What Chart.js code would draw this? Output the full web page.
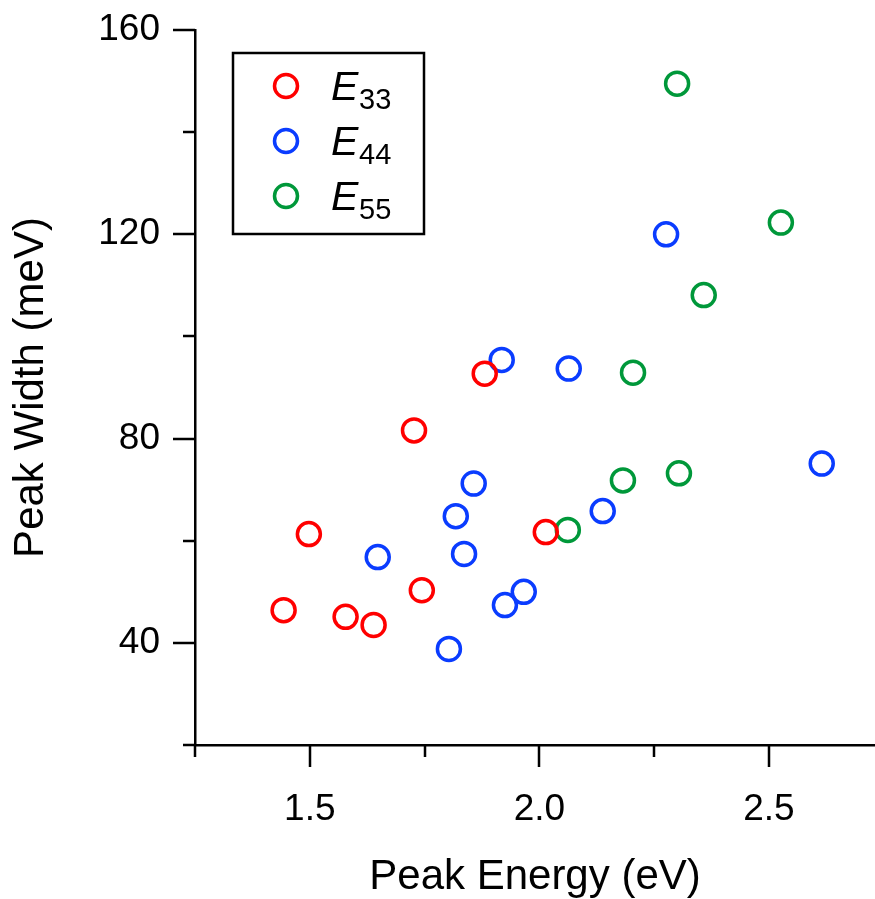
<!DOCTYPE html>
<html>
<head>
<meta charset="utf-8">
<script src="https://cdn.jsdelivr.net/npm/chart.js@4.4.1/dist/chart.umd.min.js"></script>
<style>
  html, body { margin: 0; padding: 0; background: #fff; overflow: hidden; }
  #wrap { width: 875px; height: 899px; }
</style>
</head>
<body>
<div id="wrap"><canvas id="myChart"></canvas></div>
<script>
Chart.defaults.font.family = "'Liberation Sans', Arial, sans-serif";
Chart.defaults.color = '#000';

// peak energy (eV) / peak width (meV) per transition
var e33_x = [1.443, 1.498, 1.578, 1.639, 1.727, 1.744, 1.881, 2.014];
var e33_y = [46.4, 61.3, 45.1, 43.5, 81.6, 50.3, 92.7, 61.7];
var e44_x = [1.648, 1.803, 1.818, 1.836, 1.857, 1.918, 1.925, 1.966, 2.064, 2.138, 2.276, 2.615];
var e44_y = [56.8, 38.8, 64.8, 57.4, 71.2, 95.4, 47.4, 50.0, 93.7, 65.8, 120.0, 75.1];
var e55_x = [2.062, 2.182, 2.204, 2.300, 2.304, 2.358, 2.526];
var e55_y = [62.1, 71.8, 92.9, 149.5, 73.2, 108.1, 122.3];

var series_names = ['E', 'E', 'E'];
var series_subs = ['33', '44', '55'];
var series_colors = ['#ff0000', '#0a3cff', '#00983a'];

var x_ticks = [1.25, 1.5, 1.75, 2.0, 2.25, 2.5];
var x_labels = ['1.5', '2.0', '2.5'];
var y_ticks = [20, 40, 60, 80, 100, 120, 140, 160];
var y_labels = ['40', '80', '120', '160'];

function toPoints(xs, ys){
    let pts = [];
    for (let i = 0; i < xs.length; i++){
        pts.push({x: xs[i], y: ys[i]});
    }
    return pts;
}

function fmtX(v){ return v.toFixed(1); }
function fmtY(v){ return String(v); }

// tick marks drawn by hand: long for labelled ticks, short for the others
const tickMarks = {
    id: 'tickMarks',
    afterDraw(chart){
        const c = chart.ctx;
        const xs = chart.scales.x;
        const ys = chart.scales.y;
        c.save();
        c.strokeStyle = '#000';
        c.lineWidth = 2.5;
        c.beginPath();
        x_ticks.forEach(function(v){
            let px = Math.round(xs.getPixelForValue(v));
            let len = x_labels.includes(fmtX(v)) ? 22 : 12;
            c.moveTo(px, xs.top);
            c.lineTo(px, xs.top + len);
        });
        y_ticks.forEach(function(v){
            let py = Math.round(ys.getPixelForValue(v));
            let len = y_labels.includes(fmtY(v)) ? 22 : 12;
            c.moveTo(ys.right, py);
            c.lineTo(ys.right - len, py);
        });
        c.stroke();
        c.restore();
    }
};

// boxed legend with italic E and subscript
const boxLegend = {
    id: 'boxLegend',
    afterDraw(chart){
        const c = chart.ctx;
        const bx = 233, by = 53, bw = 191, bh = 181;
        c.save();
        c.fillStyle = '#fff';
        c.fillRect(bx, by, bw, bh);
        c.strokeStyle = '#000';
        c.lineWidth = 2.5;
        c.strokeRect(bx, by, bw, bh);
        chart.data.datasets.forEach(function(ds, i){
            let cy = 86 + i * 55;
            c.beginPath();
            c.lineWidth = 3.5;
            c.strokeStyle = ds.borderColor;
            c.arc(286, cy, 11.5, 0, Math.PI * 2);
            c.stroke();
            c.fillStyle = '#000';
            c.textBaseline = 'alphabetic';
            c.textAlign = 'left';
            c.font = "italic 41px 'Liberation Sans', Arial, sans-serif";
            c.fillText(series_names[i], 331, cy + 14);
            c.font = "29px 'Liberation Sans', Arial, sans-serif";
            c.fillText(series_subs[i], 359, cy + 23);
        });
        c.restore();
    }
};

const ctx = document.getElementById('myChart');
new Chart(ctx, {
    type: 'scatter',
    data: {
        datasets: [
            {label: series_names[0] + series_subs[0], data: toPoints(e33_x, e33_y), borderColor: series_colors[0]},
            {label: series_names[1] + series_subs[1], data: toPoints(e44_x, e44_y), borderColor: series_colors[1]},
            {label: series_names[2] + series_subs[2], data: toPoints(e55_x, e55_y), borderColor: series_colors[2]},
        ]
    },
    options: {
        responsive: true,
        maintainAspectRatio: false,
        animation: false,
        layout: { autoPadding: false, padding: { top: 30, right: 0, left: 0, bottom: 0 } },
        elements: {
            point: { radius: 11.5, borderWidth: 3.5, backgroundColor: 'rgba(0,0,0,0)', hoverRadius: 11.5 }
        },
        plugins: {
            legend: { display: false },
            tooltip: { enabled: false }
        },
        scales: {
            x: {
                type: 'linear',
                min: 1.25,
                max: 2.731,
                afterBuildTicks: function(scale){
                    scale.ticks = x_ticks.map(function(v){ return {value: v}; });
                },
                afterFit: function(scale){
                    scale.height = 154;
                    scale.paddingLeft = 0;
                    scale.paddingRight = 0;
                },
                grid: { drawOnChartArea: false, drawTicks: true, tickLength: 22, tickColor: 'rgba(0,0,0,0)' },
                border: { display: true, color: '#000', width: 2.5 },
                ticks: {
                    autoSkip: false,
                    maxRotation: 0,
                    padding: 21,
                    font: { size: 37 },
                    callback: function(v){ let s = fmtX(v); return x_labels.includes(s) ? s : ''; }
                },
                title: { display: true, text: 'Peak Energy (eV)', font: { size: 42 }, padding: { top: 0, bottom: -4 } }
            },
            y: {
                type: 'linear',
                min: 20,
                max: 160,
                afterBuildTicks: function(scale){
                    scale.ticks = y_ticks.map(function(v){ return {value: v}; });
                },
                afterFit: function(scale){
                    scale.width = 195;
                    scale.paddingTop = 0;
                    scale.paddingBottom = 0;
                },
                grid: { drawOnChartArea: false, drawTicks: true, tickLength: 22, tickColor: 'rgba(0,0,0,0)' },
                border: { display: true, color: '#000', width: 2.5 },
                ticks: {
                    autoSkip: false,
                    padding: 13,
                    font: { size: 37 },
                    callback: function(v){ let s = fmtY(v); return y_labels.includes(s) ? s : ''; }
                },
                title: { display: true, text: 'Peak Width (meV)', font: { size: 42 }, padding: { top: 6, bottom: 0 } }
            }
        }
    },
    plugins: [tickMarks, boxLegend]
});
</script>
</body>
</html>
